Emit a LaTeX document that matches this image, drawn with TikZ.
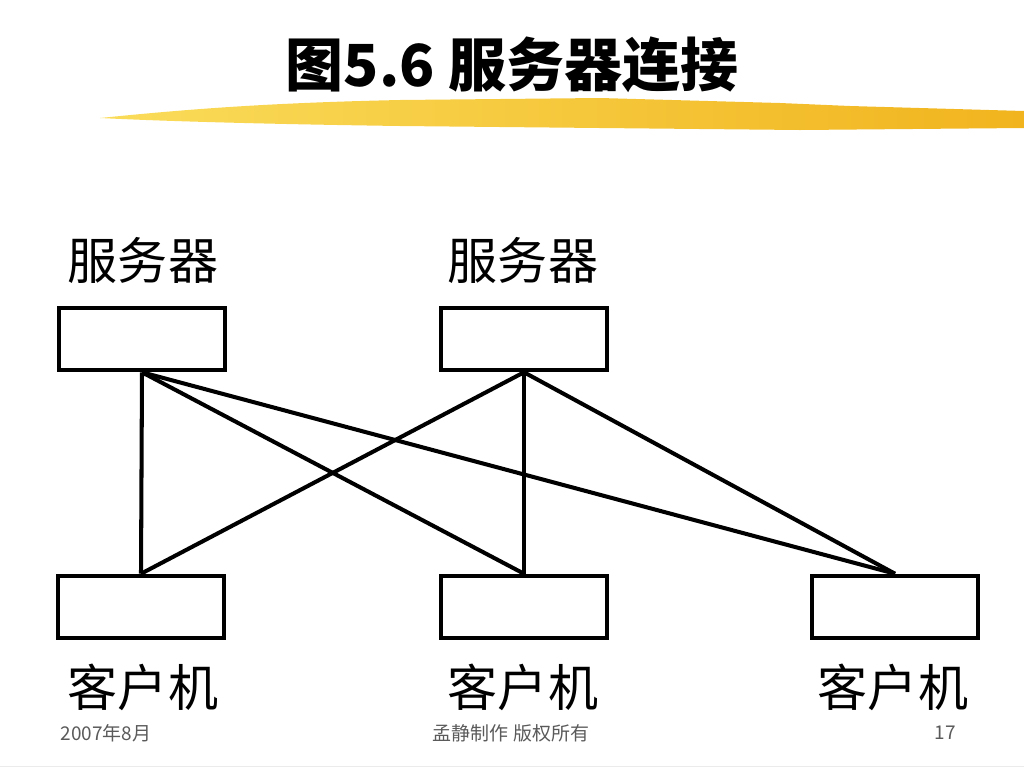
\documentclass[tikz,border=0pt]{standalone}
\usepackage{fontspec}
\newfontfamily\cjk{Noto Sans CJK SC}
\usepackage{tikz}

\definecolor{brushA}{HTML}{FADC5A}
\definecolor{brushB}{HTML}{F1B41E}
\definecolor{footgray}{HTML}{5A5A5A}

\begin{document}
\begin{tikzpicture}[x=0.02cm, y=-0.02cm,
  box/.style = {draw, line width=2.6pt, minimum width=3.32cm, minimum height=1.24cm, inner sep=0pt},
  lbl/.style = {font=\cjk\fontsize{28.5}{32}\selectfont, inner sep=0pt},
  foot/.style = {font=\cjk\fontsize{10.8}{12}\selectfont, text=footgray, inner sep=0pt}]
\useasboundingbox (0,0) rectangle (1024,768);

%% title and brush stroke
\node[font=\cjk\bfseries\fontsize{33}{36}\selectfont, inner sep=0pt] (title) at (512, 65) {图5.6 服务器连接};
\shade[left color=brushA, right color=brushB] (100,118) .. controls (180,110) and (260,103) .. (400,100)
  -- (600,98) -- (780,103) -- (850,106) -- (1024,111) -- (1024,128) -- (800,130) -- (600,128)
  -- (400,126) .. controls (260,124) and (160,121) .. (100,118) -- cycle;

%% servers
\node[lbl] (sl1) at (143, 260) {服务器};
\node[lbl] (sl2) at (523, 260) {服务器};
\node[box] (s1) at (142, 339) {};
\node[box] (s2) at (524, 339) {};

%% clients
\node[box] (c1) at (141, 607) {};
\node[box] (c2) at (524, 607) {};
\node[box] (c3) at (895, 607) {};
\node[lbl] (cl1) at (143, 687) {客户机};
\node[lbl] (cl2) at (523, 687) {客户机};
\node[lbl] (cl3) at (893, 687) {客户机};

%%% connections
\draw[line width=2.3pt] (s1.south) -- (c1.north);
\draw[line width=2.3pt] (s1.south) -- (c2.north);
\draw[line width=2.3pt] (s1.south) -- (c3.north);
\draw[line width=2.3pt] (s2.south) -- (c1.north);
\draw[line width=2.3pt] (s2.south) -- (c2.north);
\draw[line width=2.3pt] (s2.south) -- (c3.north);

%% footer
\node[foot] (date) at (106, 733) {2007年8月};
\node[foot] (copy) at (511, 733) {孟静制作 版权所有};
\node[foot] (page) at (945, 733) {17};
\draw[black!8] (0,766) -- (1024,766);
\end{tikzpicture}
\end{document}
